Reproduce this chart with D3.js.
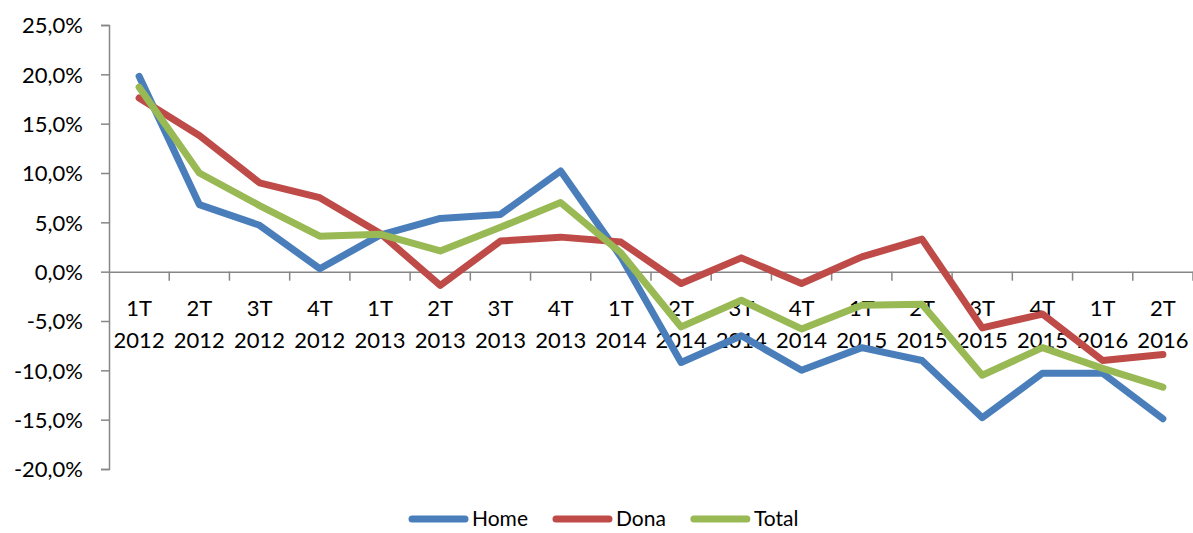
<!DOCTYPE html>
<html>
<head>
<meta charset="utf-8">
<script src="https://cdn.jsdelivr.net/npm/d3@7"></script>
<style>
  body { margin: 0; background: #fff; }
  text { font-family: Lato, "Open Sans", sans-serif; fill: #000; }
</style>
</head>
<body>
<svg width="1193" height="533"></svg>
<script>
// dades
var trimestres = ['1T 2012','2T 2012','3T 2012','4T 2012','1T 2013','2T 2013','3T 2013','4T 2013',
                  '1T 2014','2T 2014','3T 2014','4T 2014','1T 2015','2T 2015','3T 2015','4T 2015',
                  '1T 2016','2T 2016'];
var home  = [19.8, 6.8, 4.7, 0.3, 3.7, 5.4, 5.8, 10.2, 1.5, -9.2, -6.5, -10.0, -7.7, -9.0, -14.8, -10.3, -10.3, -14.9];
var dona  = [17.6, 13.8, 9.0, 7.5, 3.9, -1.4, 3.1, 3.5, 3.0, -1.2, 1.4, -1.2, 1.5, 3.3, -5.7, -4.3, -9.0, -8.4];
var total = [18.7, 10.0, 6.7, 3.6, 3.8, 2.1, 4.5, 7.0, 1.9, -5.6, -2.9, -5.8, -3.4, -3.3, -10.5, -7.7, -9.8, -11.7];
var yTicks = [25, 20, 15, 10, 5, 0, -5, -10, -15, -20];

var series = [
  { nom: 'Home',  valors: home,  color: '#4A7EBB' },
  { nom: 'Dona',  valors: dona,  color: '#BE4B48' },
  { nom: 'Total', valors: total, color: '#98B954' }
];

var svg = d3.select('svg'),
    margin = { top: 25, right: 0, bottom: 64, left: 109 },
    width = +svg.attr('width') - margin.left - margin.right,
    height = +svg.attr('height') - margin.top - margin.bottom;

var x = d3.scaleBand().domain(trimestres).range([0, width]),
    y = d3.scaleLinear().domain([-20, 25]).range([height, 0]);

var loc = d3.formatLocale({ decimal: ',', thousands: '.', grouping: [3], currency: ['', '€'], minus: '-' });
var fmt = loc.format('.1f');

var g = svg.append('g')
    .attr('transform', 'translate(' + margin.left + ',' + margin.top + ')');

var axisColor = '#868686';

// eix y
var yAxis = g.append('g')
    .call(d3.axisLeft(y).tickValues(yTicks).tickSize(8).tickPadding(18)
      .tickFormat(function(d) { return fmt(d) + '%'; }));
yAxis.select('.domain').attr('stroke', axisColor).attr('stroke-width', 1.5);
yAxis.selectAll('.tick line').attr('stroke', axisColor).attr('stroke-width', 1.5);
yAxis.selectAll('text').style('font-size', '22px').attr('fill', '#000').attr('dy', '0.36em');

// eix x a la linia del zero
var xAxis = g.append('g')
    .attr('transform', 'translate(0,' + y(0) + ')')
    .call(d3.axisBottom(x).tickSize(0).tickFormat(''));
xAxis.select('.domain').attr('stroke', axisColor).attr('stroke-width', 1.5);

// marques entre categories
g.append('g').selectAll('line')
    .data(trimestres.slice(1).concat(['fi']))
    .enter().append('line')
      .attr('x1', function(d, i) { return x.step() * (i + 1); })
      .attr('x2', function(d, i) { return x.step() * (i + 1); })
      .attr('y1', y(0))
      .attr('y2', y(0) + 9)
      .attr('stroke', axisColor)
      .attr('stroke-width', 1.5);

// etiquetes en dues linies
var labels = g.append('g').selectAll('text')
    .data(trimestres)
    .enter().append('text')
      .attr('text-anchor', 'middle')
      .style('font-size', '22px')
      .attr('transform', function(d) {
        return 'translate(' + (x(d) + x.bandwidth() / 2) + ',' + (y(0) + 44) + ')';
      });
labels.append('tspan').attr('x', 0).attr('y', 0).text(function(d) { return d.split(' ')[0]; });
labels.append('tspan').attr('x', 0).attr('y', 32).text(function(d) { return d.split(' ')[1]; });

// linies
var line = d3.line()
    .x(function(d, i) { return x(trimestres[i]) + x.bandwidth() / 2; })
    .y(function(d) { return y(d); })
    .curve(d3.curveLinear);

g.selectAll('.serie')
    .data(series)
    .enter().append('path')
      .attr('class', 'serie')
      .attr('fill', 'none')
      .attr('stroke', function(d) { return d.color; })
      .attr('stroke-width', 7)
      .attr('stroke-linejoin', 'round')
      .attr('stroke-linecap', 'round')
      .attr('d', function(d) { return line(d.valors); });

// llegenda
var legend = svg.append('g').attr('transform', 'translate(412,519)');
var pos = 0;
series.forEach(function(s) {
  var item = legend.append('g').attr('transform', 'translate(' + pos + ',0)');
  item.append('line')
    .attr('x1', 0).attr('x2', 53).attr('y1', 0).attr('y2', 0)
    .attr('stroke', s.color).attr('stroke-width', 7).attr('stroke-linecap', 'round');
  var t = item.append('text')
    .attr('x', 60).attr('y', 0).attr('dy', '0.33em')
    .style('font-size', '21px')
    .text(s.nom);
  pos += 60 + t.node().getComputedTextLength() + 28;
});
</script>
</body>
</html>
